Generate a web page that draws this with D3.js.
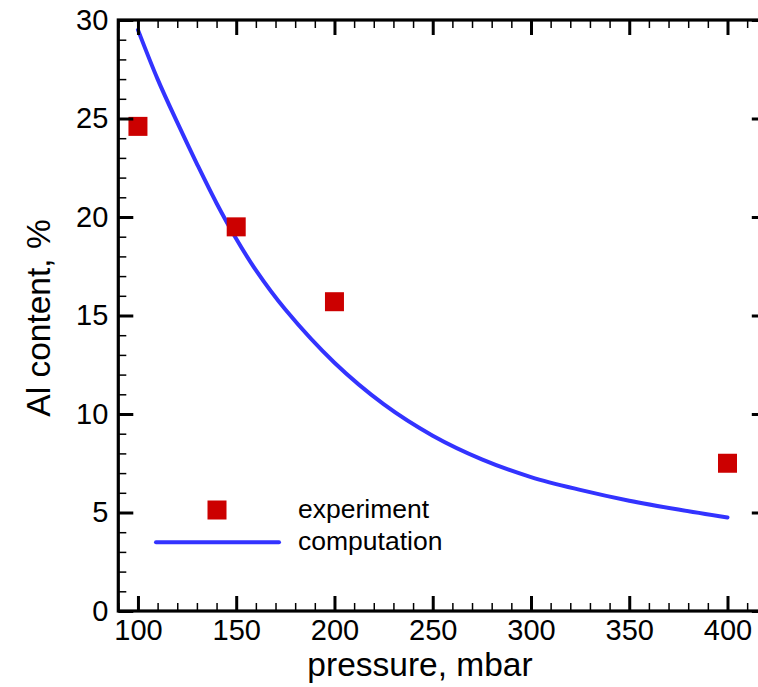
<!DOCTYPE html>
<html>
<head>
<meta charset="utf-8">
<script src="https://cdn.jsdelivr.net/npm/d3@7"></script>
<style>
  body { margin: 0; background: #fff; }
  svg { display: block; font-family: "Liberation Sans", Arial, sans-serif; }
</style>
</head>
<body>
<svg width="758" height="687"></svg>
<script>
// measured points
const expPressure = [100, 150, 200, 400];
const expAl = [24.6, 19.5, 15.7, 7.5];

// computed curve
const calcPressure = [100, 110, 120, 130, 140, 150, 160, 175, 200, 225, 250, 275, 300, 325, 350, 375, 400];
const calcAl = [29.5, 27.0, 24.8, 22.7, 20.7, 18.9, 17.3, 15.3, 12.6, 10.5, 8.9, 7.7, 6.8, 6.15, 5.6, 5.15, 4.75];

const xTicks = [100, 150, 200, 250, 300, 350, 400];
const yTicks = [0, 5, 10, 15, 20, 25, 30];
const legendLabels = ["experiment", "computation"];

const svg = d3.select("svg");

const plotL = 118.3, plotR = 766.8, plotT = 20, plotB = 611;

const x = d3.scaleLinear().domain([90, 420]).range([plotL, plotR]);
const y = d3.scaleLinear().domain([0, 30]).range([plotB, plotT]);

const xMinor = d3.range(90, 421, 10).filter(v => !xTicks.includes(v));
const yMinor = d3.range(0, 31, 1).filter(v => !yTicks.includes(v));

// curve
const line = d3.line()
    .x((d, i) => x(calcPressure[i]))
    .y(d => y(d))
    .curve(d3.curveCatmullRom.alpha(0.5));

svg.append("path")
    .datum(calcAl)
    .attr("fill", "none")
    .attr("stroke", "#3333ff")
    .attr("stroke-width", 4)
    .attr("stroke-linecap", "round")
    .attr("d", line);

// experiment squares
const sq = 19;
svg.append("g")
    .selectAll("rect")
    .data(expAl)
    .enter().append("rect")
    .attr("x", (d, i) => x(expPressure[i]) - sq / 2)
    .attr("y", d => y(d) - sq / 2)
    .attr("width", sq)
    .attr("height", sq)
    .attr("fill", "#cc0000");

// axes (ticks pointing inward on all four sides)
function styleAxis(g, w) {
    g.select(".domain").remove();
    g.selectAll(".tick line").attr("stroke", "#000").attr("stroke-width", w);
}

svg.append("g")
    .attr("transform", `translate(0,${plotB})`)
    .call(d3.axisBottom(x).tickValues(xTicks).tickSize(-15).tickSizeOuter(0).tickPadding(8))
    .call(g => styleAxis(g, 3))
    .call(g => g.selectAll("text").attr("font-size", 29).attr("fill", "#000")
        .attr("font-family", "Liberation Sans, Arial, sans-serif"));

svg.append("g")
    .attr("transform", `translate(0,${plotB})`)
    .call(d3.axisBottom(x).tickValues(xMinor).tickSize(-8).tickFormat(""))
    .call(g => styleAxis(g, 1.5));

svg.append("g")
    .attr("transform", `translate(0,${plotT})`)
    .call(d3.axisTop(x).tickValues(xTicks).tickSize(-15).tickFormat(""))
    .call(g => styleAxis(g, 3));

svg.append("g")
    .attr("transform", `translate(0,${plotT})`)
    .call(d3.axisTop(x).tickValues(xMinor).tickSize(-8).tickFormat(""))
    .call(g => styleAxis(g, 1.5));

svg.append("g")
    .attr("transform", `translate(${plotL},0)`)
    .call(d3.axisLeft(y).tickValues(yTicks).tickSize(-15).tickPadding(10))
    .call(g => styleAxis(g, 3))
    .call(g => g.selectAll("text").attr("font-size", 29).attr("fill", "#000")
        .attr("font-family", "Liberation Sans, Arial, sans-serif"));

svg.append("g")
    .attr("transform", `translate(${plotL},0)`)
    .call(d3.axisLeft(y).tickValues(yMinor).tickSize(-8).tickFormat(""))
    .call(g => styleAxis(g, 1.5));

svg.append("g")
    .attr("transform", `translate(${plotR},0)`)
    .call(d3.axisRight(y).tickValues(yTicks).tickSize(-15).tickFormat(""))
    .call(g => styleAxis(g, 3));

svg.append("g")
    .attr("transform", `translate(${plotR},0)`)
    .call(d3.axisRight(y).tickValues(yMinor).tickSize(-8).tickFormat(""))
    .call(g => styleAxis(g, 1.5));

// frame
svg.append("rect")
    .attr("x", plotL)
    .attr("y", plotT)
    .attr("width", plotR - plotL)
    .attr("height", plotB - plotT)
    .attr("fill", "none")
    .attr("stroke", "#000")
    .attr("stroke-width", 3.2);

// axis titles
svg.append("text")
    .attr("x", 420)
    .attr("y", 676)
    .attr("text-anchor", "middle")
    .attr("font-size", 33.5)
    .text("pressure, mbar");

svg.append("text")
    .attr("transform", "translate(50,318) rotate(-90)")
    .attr("text-anchor", "middle")
    .attr("font-size", 33.5)
    .text("Al content, %");

// legend
const legend = svg.append("g");
legend.append("rect")
    .attr("x", 217 - sq / 2)
    .attr("y", 510 - sq / 2)
    .attr("width", sq)
    .attr("height", sq)
    .attr("fill", "#cc0000");
legend.append("line")
    .attr("x1", 156).attr("x2", 279)
    .attr("y1", 542.3).attr("y2", 542.3)
    .attr("stroke", "#3333ff")
    .attr("stroke-width", 4)
    .attr("stroke-linecap", "round");
legend.selectAll("text.lg")
    .data(legendLabels)
    .enter().append("text")
    .attr("class", "lg")
    .attr("x", 298)
    .attr("y", (d, i) => 518 + i * 32)
    .attr("font-size", 26.5)
    .text(d => d);
</script>
</body>
</html>
